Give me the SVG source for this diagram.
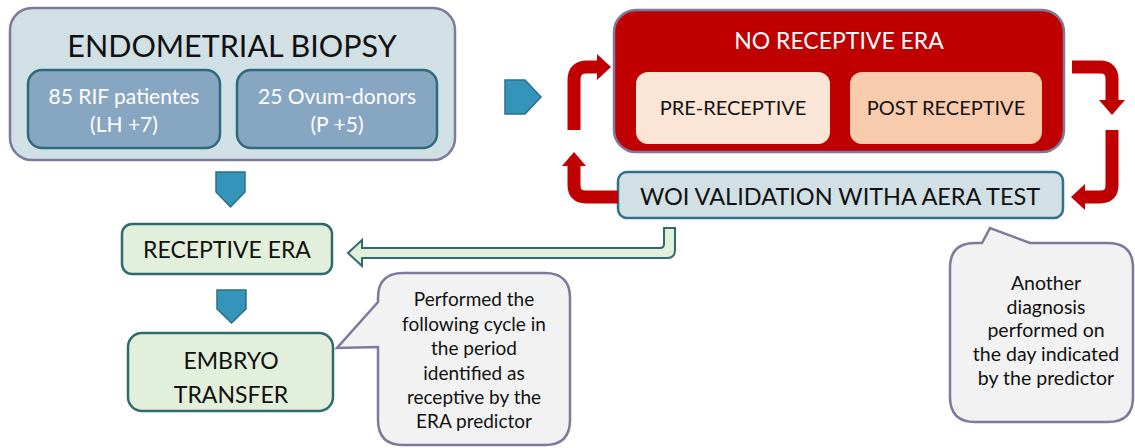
<svg xmlns="http://www.w3.org/2000/svg" width="1135" height="448" viewBox="0 0 1135 448">
<style>
text{font-family:"Lato","Liberation Sans",sans-serif;text-anchor:middle;fill:#111}
.w{fill:#fff}
.big{stroke:#7d7a9c;stroke-width:2.5}
.sub{fill:#87a6c2;stroke:#2e6a7c;stroke-width:2.5}
.green{fill:#e2efda;stroke:#2f6a6e;stroke-width:2.5}
.blue{fill:#3494ba;stroke:#2b6f89;stroke-width:1.5}
.red{fill:none;stroke:#c00000;stroke-width:13}
.redh{fill:#c00000}
.call{fill:#f2f2f2;stroke:#7d7a9c;stroke-width:2.5}
</style>
<g id="biopsy">
<rect x="10" y="8" width="445" height="152" rx="22" fill="#d1e0e4" class="big"/>
<text x="232" y="57" font-size="30.5">ENDOMETRIAL BIOPSY</text>
</g>
<g id="rif">
<rect x="28" y="70" width="192" height="78" rx="14" class="sub"/>
<text x="124" y="104" font-size="21" class="w">85 RIF patientes</text>
<text x="124" y="132" font-size="21" class="w">(LH +7)</text>
</g>
<g id="donors">
<rect x="237" y="70" width="200" height="78" rx="14" class="sub"/>
<text x="337" y="104" font-size="21" class="w">25 Ovum-donors</text>
<text x="337" y="132" font-size="21" class="w">(P +5)</text>
</g>
<g id="noreceptive">
<rect x="614" y="10" width="450" height="142" rx="22" fill="#c00000" class="big"/>
<text x="839" y="49" font-size="23" class="w">NO RECEPTIVE ERA</text>
</g>
<g id="prereceptive">
<rect x="636" y="72" width="194" height="72" rx="12" fill="#fbe5d6"/>
<text x="733" y="115" font-size="20">PRE-RECEPTIVE</text>
</g>
<g id="postreceptive">
<rect x="850" y="72" width="192" height="72" rx="12" fill="#f8cbad"/>
<text x="946" y="115" font-size="20">POST RECEPTIVE</text>
</g>
<g id="woi">
<rect x="618" y="172" width="445" height="46" rx="9" fill="#d1e0e4" stroke="#31708a" stroke-width="2.5"/>
<text x="840" y="205" font-size="23.5">WOI VALIDATION WITHA AERA TEST</text>
</g>
<g id="receptive">
<rect x="122" y="224" width="210" height="50" rx="10" class="green"/>
<text x="227" y="258" font-size="23">RECEPTIVE ERA</text>
</g>
<g id="transfer">
<rect x="128" y="333" width="205" height="78" rx="14" class="green"/>
<text x="231" y="369" font-size="23">EMBRYO</text>
<text x="231" y="403" font-size="23">TRANSFER</text>
</g>
<g id="callout1">
<path class="call" d="M 403 273 H 545 Q 570 273 570 298 V 420 Q 570 445 545 445 H 403 Q 378 445 378 420 V 347 L 337 348 L 378 302 V 298 Q 378 273 403 273 Z"/>
<g font-size="19">
<text x="474" y="306">Performed the</text>
<text x="474" y="331">following cycle in</text>
<text x="474" y="355">the period</text>
<text x="474" y="380">identified as</text>
<text x="474" y="404">receptive by the</text>
<text x="474" y="428">ERA predictor</text>
</g>
</g>
<g id="callout2">
<path class="call" d="M 975 243 H 982 L 990 228 L 1030 243 H 1108 Q 1133 243 1133 268 V 397 Q 1133 422 1108 422 H 975 Q 950 422 950 397 V 268 Q 950 243 975 243 Z"/>
<g font-size="19.5">
<text x="1046" y="290">Another</text>
<text x="1046" y="314">diagnosis</text>
<text x="1046" y="337">performed on</text>
<text x="1046" y="361">the day indicated</text>
<text x="1046" y="385">by the predictor</text>
</g>
</g>
<g id="connectors">
<polygon class="blue" points="505,80 525,80 541,97 525,114 505,114"/>
<polygon class="blue" points="216,172 245,172 245,192 230.5,207 216,192"/>
<polygon class="blue" points="217,290 246,290 246,309 231.5,323 217,309"/>
<path class="red" d="M 574 130 V 80 Q 574 67 587 67 H 598"/>
<polygon class="redh" points="597,54 611,67 597,80"/>
<path class="red" d="M 574 165 V 185 Q 574 197 586 197 H 618"/>
<polygon class="redh" points="562,166 586,166 574,152"/>
<path class="red" d="M 1072 67 H 1100 Q 1112 67 1112 79 V 101"/>
<polygon class="redh" points="1099,100 1125,100 1112,115"/>
<path class="red" d="M 1112 130 V 185 Q 1112 197 1100 197 H 1084"/>
<polygon class="redh" points="1085,184 1085,210 1071,197"/>
<path d="M 664 228 H 675 V 250 Q 675 258 667 258 H 362 V 266 L 348 253 L 362 240 V 248 H 660 Q 664 248 664 244 Z" fill="#e2efda" stroke="#2f6a6e" stroke-width="2"/>
</g>
</svg>
